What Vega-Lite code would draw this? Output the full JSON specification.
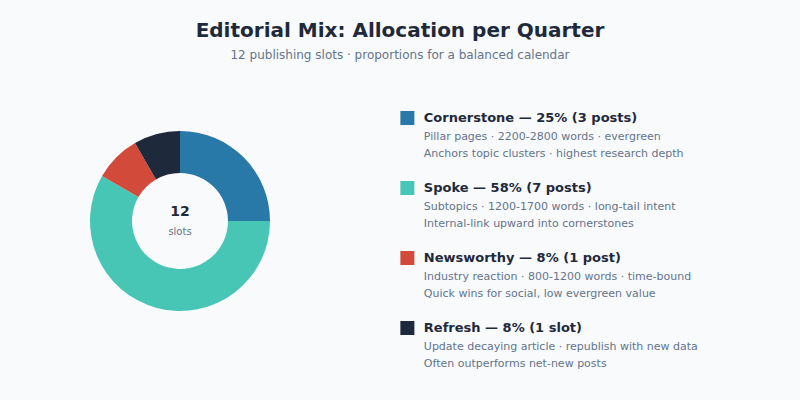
{
  "$schema": "https://vega.github.io/schema/vega-lite/v6.json",
  "background": "#f8fafc",
  "padding": {"left": 90, "right": 90, "top": 21, "bottom": 34},
  "title": {
    "text": "Editorial Mix: Allocation per Quarter",
    "subtitle": "12 publishing slots · proportions for a balanced calendar",
    "anchor": "middle",
    "font": "DejaVu Sans",
    "fontSize": 20,
    "fontWeight": "bold",
    "color": "#1e293b",
    "subtitleFont": "DejaVu Sans",
    "subtitleFontSize": 12,
    "subtitleColor": "#64748b",
    "subtitlePadding": 9,
    "offset": 22
  },
  "datasets": {
    "mix": [
      {"category": "Cornerstone", "slots": 3, "order": 1, "header": "Cornerstone — 25% (3 posts)", "line1": "Pillar pages · 2200-2800 words · evergreen", "line2": "Anchors topic clusters · highest research depth"},
      {"category": "Spoke", "slots": 7, "order": 2, "header": "Spoke — 58% (7 posts)", "line1": "Subtopics · 1200-1700 words · long-tail intent", "line2": "Internal-link upward into cornerstones"},
      {"category": "Newsworthy", "slots": 1, "order": 3, "header": "Newsworthy — 8% (1 post)", "line1": "Industry reaction · 800-1200 words · time-bound", "line2": "Quick wins for social, low evergreen value"},
      {"category": "Refresh", "slots": 1, "order": 4, "header": "Refresh — 8% (1 slot)", "line1": "Update decaying article · republish with new data", "line2": "Often outperforms net-new posts"}
    ]
  },
  "config": {
    "view": {"stroke": null},
    "font": "DejaVu Sans"
  },
  "spacing": 120,
  "hconcat": [
    {
      "width": 180,
      "height": 276,
      "data": {"name": "mix"},
      "layer": [
        {
          "mark": {"type": "arc", "outerRadius": 90, "innerRadius": 48},
          "encoding": {
            "theta": {"field": "slots", "type": "quantitative", "stack": true},
            "order": {"field": "order", "type": "quantitative"},
            "color": {
              "field": "category",
              "type": "nominal",
              "scale": {
                "domain": ["Cornerstone", "Spoke", "Newsworthy", "Refresh"],
                "range": ["#2878a8", "#48c6b5", "#d24a39", "#1e293b"]
              },
              "legend": null
            }
          }
        },
        {
          "data": {"values": [{"label": "12"}]},
          "mark": {"type": "text", "fontSize": 14, "fontWeight": "bold", "color": "#1e293b", "dy": -9, "baseline": "middle", "align": "center"},
          "encoding": {"text": {"field": "label", "type": "nominal"}}
        },
        {
          "data": {"values": [{"label": "slots"}]},
          "mark": {"type": "text", "fontSize": 10, "color": "#64748b", "dy": 11, "baseline": "middle", "align": "center"},
          "encoding": {"text": {"field": "label", "type": "nominal"}}
        }
      ]
    },
    {
      "width": 320,
      "height": 280,
      "data": {"name": "mix"},
      "encoding": {
        "y": {"field": "order", "type": "ordinal", "scale": {"paddingInner": 0, "paddingOuter": 0}, "axis": null}
      },
      "layer": [
        {
          "mark": {"type": "point", "shape": "square", "size": 196, "filled": true, "opacity": 1},
          "encoding": {
            "x": {"datum": 19, "type": "quantitative", "scale": {"domain": [0, 320], "range": [0, 320]}, "axis": null},
            "color": {"field": "category", "type": "nominal", "legend": null}
          }
        },
        {
          "mark": {"type": "text", "align": "left", "baseline": "middle", "fontSize": 13, "fontWeight": "bold", "color": "#1e293b"},
          "encoding": {
            "x": {"datum": 37, "type": "quantitative"},
            "text": {"field": "header", "type": "nominal"}
          }
        },
        {
          "mark": {"type": "text", "align": "left", "baseline": "middle", "fontSize": 11, "color": "#64748b", "dy": 19},
          "encoding": {
            "x": {"datum": 37, "type": "quantitative"},
            "text": {"field": "line1", "type": "nominal"}
          }
        },
        {
          "mark": {"type": "text", "align": "left", "baseline": "middle", "fontSize": 11, "color": "#64748b", "dy": 36},
          "encoding": {
            "x": {"datum": 37, "type": "quantitative"},
            "text": {"field": "line2", "type": "nominal"}
          }
        }
      ]
    }
  ]
}
